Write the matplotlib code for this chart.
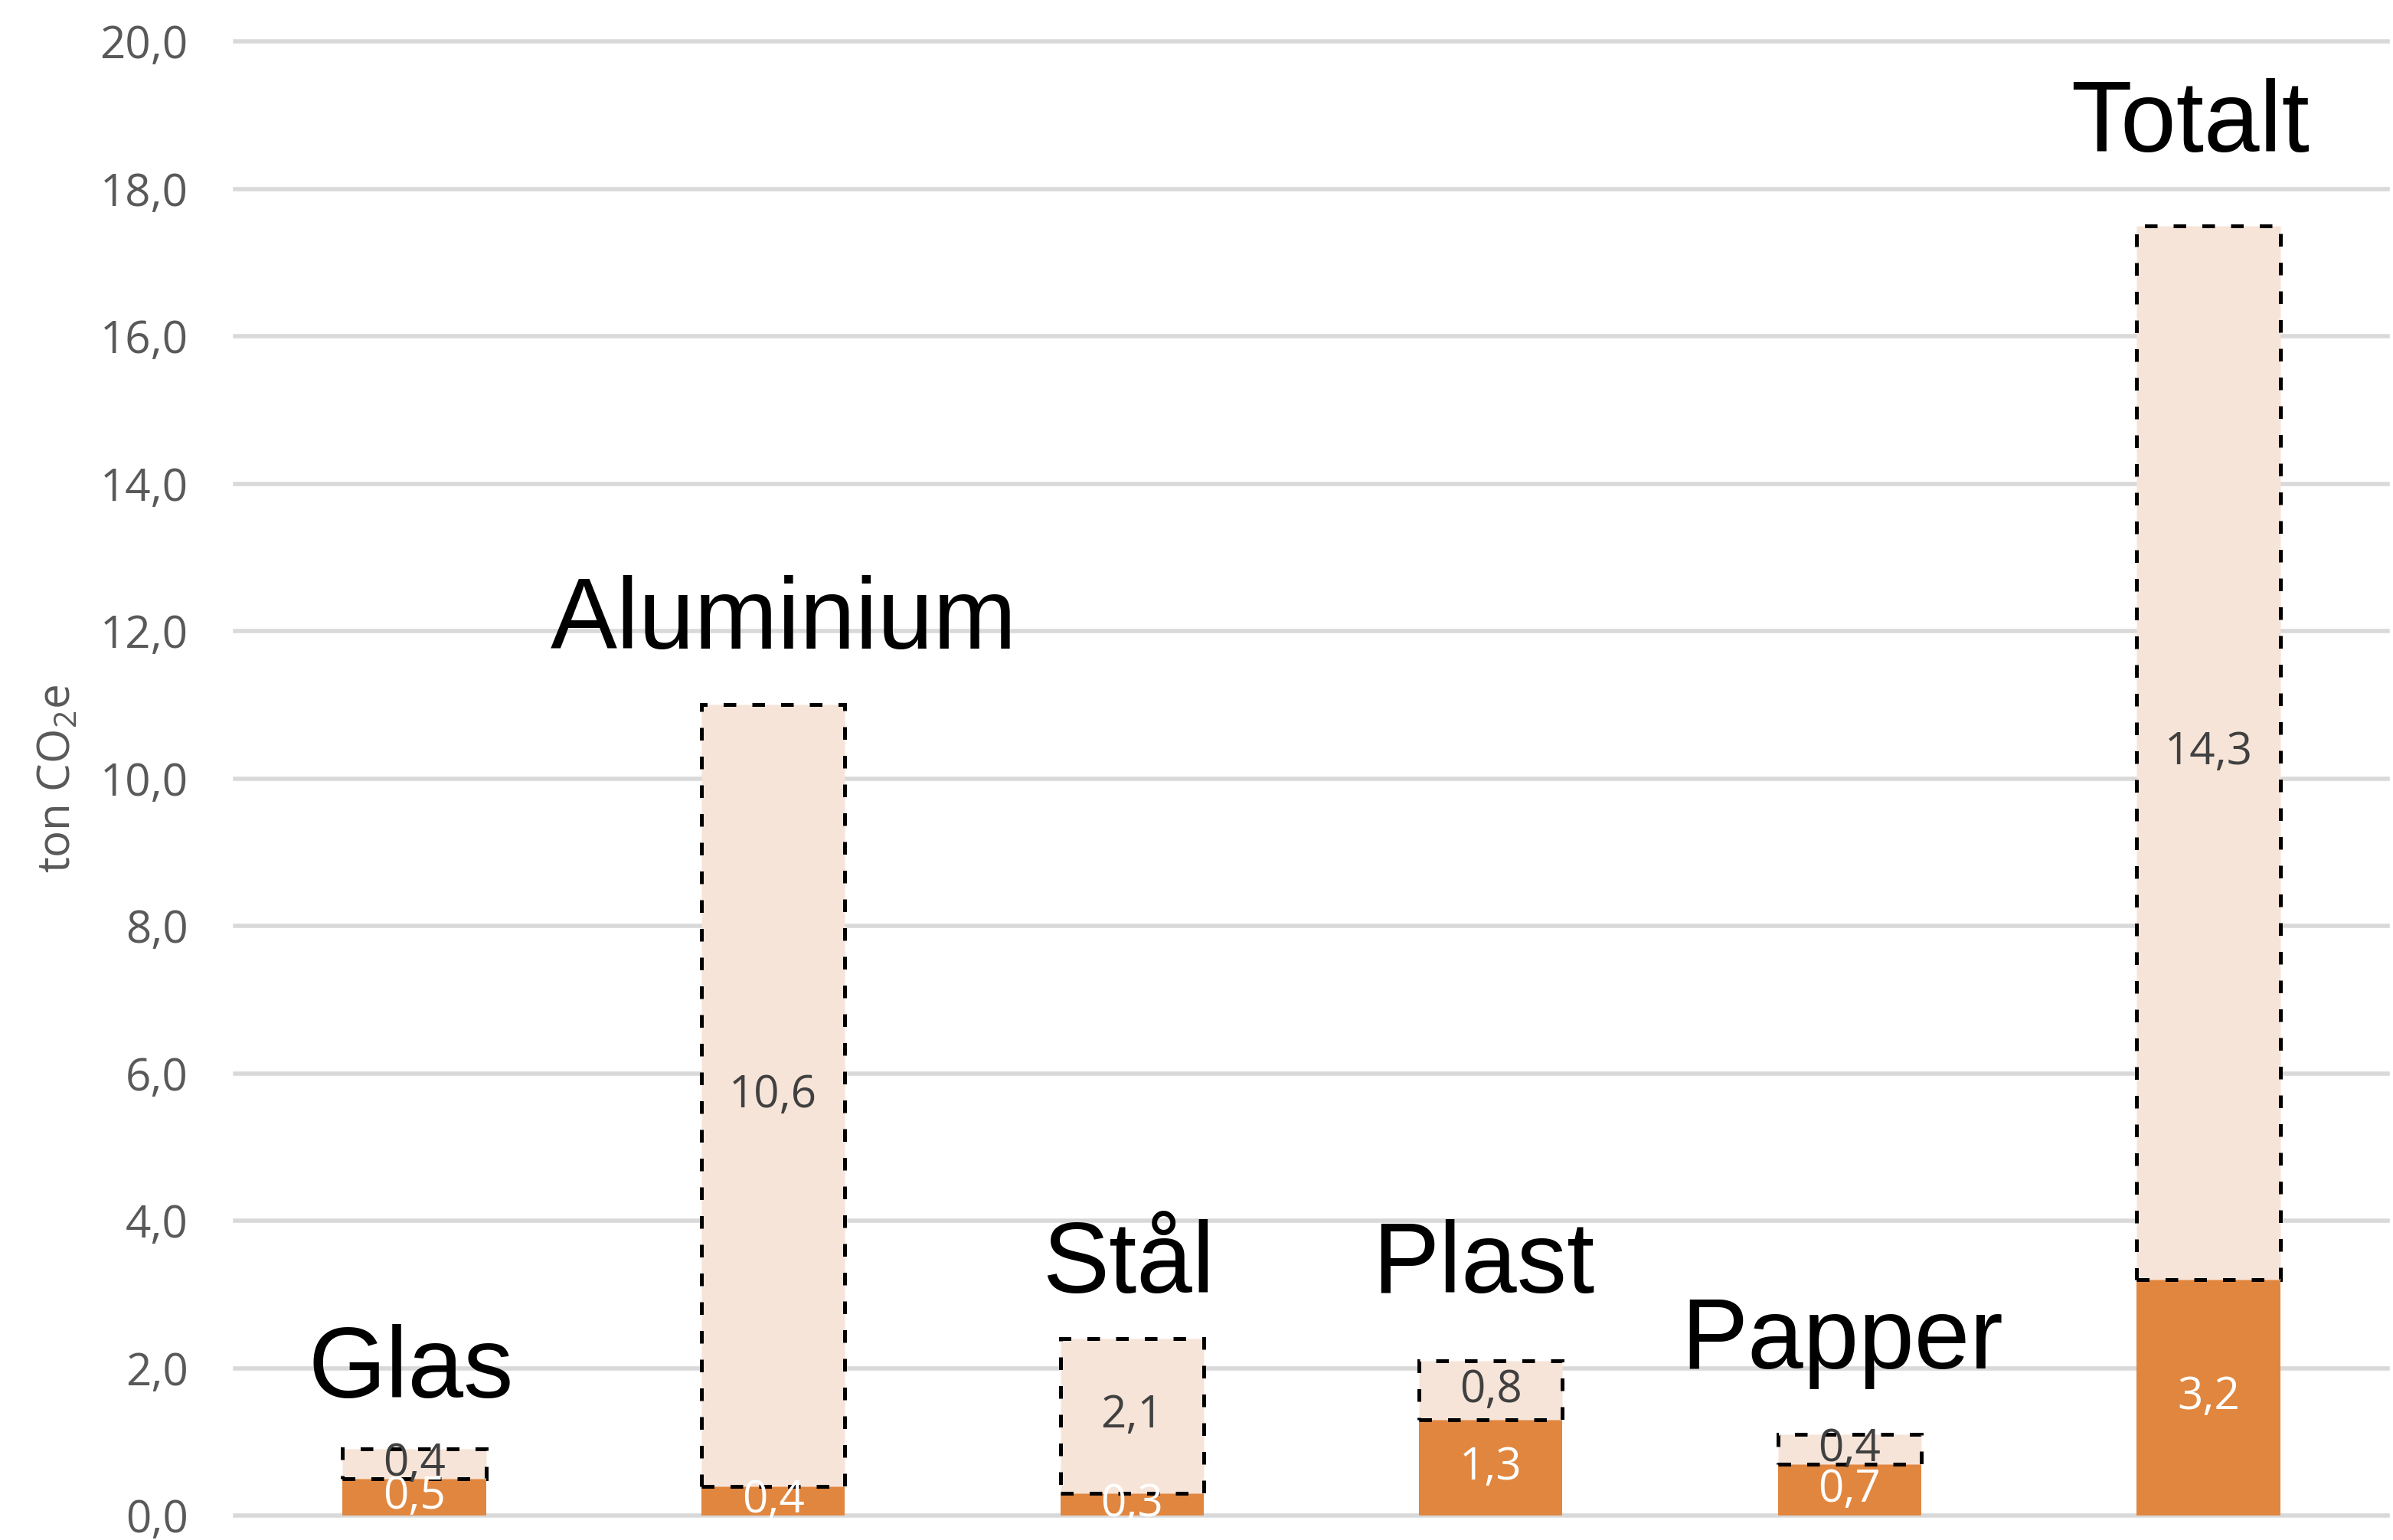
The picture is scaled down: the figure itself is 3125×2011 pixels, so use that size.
import matplotlib
matplotlib.use("Agg")
import matplotlib.pyplot as plt
import numpy as np

# Materials and emission data (ton CO2e)
categories = ["Glas", "Aluminium", "Stål", "Plast", "Papper", "Totalt"]
base_values = [0.5, 0.4, 0.3, 1.3, 0.7, 3.2]
upper_values = [0.4, 10.6, 2.1, 0.8, 0.4, 14.3]
y_ticks = [0, 2, 4, 6, 8, 10, 12, 14, 16, 18, 20]

# Placement of the large category names (data units)
name_x_offset = [-0.01, 0.03, -0.01, -0.02, -0.02, -0.05]
name_baseline = [1.60, 11.76, 3.02, 3.02, 1.99, 18.5]

ORANGE = "#E1863F"
PEACH = "#F7E4D8"
TICK_GRAY = "#595959"
LABEL_DARK = "#404040"

plt.rcParams["mathtext.fontset"] = "custom"
plt.rcParams["mathtext.rm"] = "Open Sans"

def fmt(v):
    return f"{v:.1f}".replace(".", ",")

fig = plt.figure(figsize=(15.625, 10.055), dpi=200)
ax = fig.add_axes([0.0982, 0.0159, 0.8996, 0.9572])

x = np.arange(len(categories))
width = 0.40

ax.bar(x, base_values, width=width, color=ORANGE, edgecolor="none", zorder=2)
ax.bar(x, upper_values, width=width, bottom=base_values, color=PEACH,
       edgecolor="black", linewidth=1.8, linestyle=(0, (3.3, 4.2)), zorder=3)

# Segment value labels
for xi, b, u in zip(x, base_values, upper_values):
    ax.text(xi, b / 2, fmt(b), ha="center", va="center", color="white",
            fontsize=21, family="Open Sans", zorder=4)
    ax.text(xi, b + u / 2, fmt(u), ha="center", va="center", color=LABEL_DARK,
            fontsize=21, family="Open Sans", zorder=4)

# Large category names above bars
for xi, name, dx, yb in zip(x, categories, name_x_offset, name_baseline):
    ax.text(xi + dx, yb, name, ha="center", va="baseline", color="black",
            fontsize=47, family="Liberation Sans", zorder=5)

ax.set_xlim(-0.5, len(categories) - 0.5)
ax.set_ylim(0, 20)
ax.set_yticks(y_ticks)
ax.set_yticklabels([fmt(v) for v in y_ticks], family="Open Sans",
                   fontsize=21, color=TICK_GRAY)
ax.set_xticks([])
ax.tick_params(axis="y", length=0, pad=22)

ax.set_ylabel(r"ton CO$_\mathregular{2}$e", family="Open Sans", fontsize=21,
              color=TICK_GRAY, labelpad=9)

ax.yaxis.grid(True, color="#D9D9D9", linewidth=2.0)
ax.set_axisbelow(True)
for gl in ax.get_ygridlines():
    gl.set_clip_on(False)

for s in ax.spines.values():
    s.set_visible(False)

fig.savefig("out.png", dpi=200)
